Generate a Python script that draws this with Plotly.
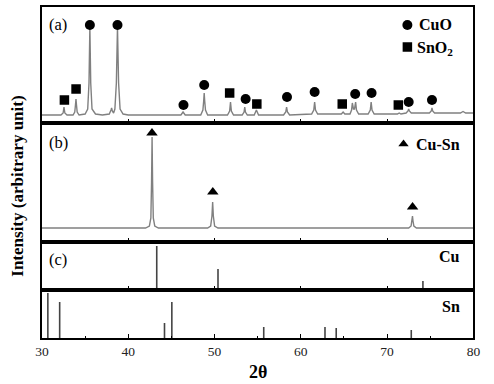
import plotly.graph_objects as go

# ---------------- data ----------------
# panel (a): measured pattern, 2theta / intensity (arb.)
a_x = [30.0, 32.2, 32.45, 32.55, 32.65, 32.9,
       33.6, 33.8, 33.88, 33.94, 34.0, 34.08, 34.3,
       35.0, 35.3, 35.45, 35.55, 35.65, 35.8, 36.2,
       37.0, 37.8, 38.0, 38.07, 38.15, 38.3,
       38.45, 38.62, 38.75, 38.88, 39.05, 39.4, 40.0,
       46.1, 46.35, 46.6,
       48.4, 48.65, 48.74, 48.8, 48.86, 48.95, 49.2,
       51.5, 51.75, 51.85, 51.95, 52.2,
       53.2, 53.42, 53.5, 53.58, 53.8,
       54.6, 54.85, 55.1,
       58.0, 58.25, 58.35, 58.45, 58.7,
       61.25, 61.5, 61.6, 61.7, 61.95,
       64.7, 64.9, 65.1,
       65.7, 65.88, 65.97, 66.1, 66.22, 66.35, 66.45, 66.7,
       67.8, 68.05, 68.15, 68.25, 68.5,
       71.2, 71.4, 71.6,
       72.2, 72.42, 72.5, 72.58, 72.8,
       74.9, 75.12, 75.2, 75.28, 75.5,
       78.5, 78.8, 79.1, 80.0]
a_y = [8, 8, 10, 16, 10, 8,
       8, 11, 18, 24, 18, 11, 8,
       9, 14, 40, 96, 40, 14, 9,
       8, 9, 13, 15, 12, 10,
       14, 40, 96, 40, 14, 9, 8,
       8, 11, 8,
       8, 13, 22, 30, 22, 13, 8,
       8, 12, 21, 12, 8,
       8, 11, 16, 11, 8,
       8, 13, 8,
       8, 11, 16, 11, 8,
       9, 13, 21, 13, 9,
       9, 11, 9,
       9, 13, 20, 14, 14, 21, 13, 9,
       9, 13, 21, 13, 9,
       9, 10, 9,
       10, 12, 14, 12, 10,
       10, 12, 15, 12, 10,
       10, 11.5, 10, 10]
cuo_x = [35.55, 38.75, 46.4, 48.8, 53.6, 58.4, 61.6, 66.3, 68.2, 72.5, 75.2]
cuo_y = [98, 98, 18, 38, 24, 26, 31, 29, 30, 21, 23]
sno2_x = [32.6, 33.95, 51.75, 54.9, 64.8, 71.3]
sno2_y = [23, 34, 30, 19, 19, 18]

# panel (b): measured pattern
b_x = [30.0, 42.0, 42.45, 42.62, 42.7, 42.76, 42.82, 42.9, 43.07, 43.5,
       49.2, 49.55, 49.7, 49.78, 49.86, 50.01, 50.4,
       72.5, 72.78, 72.88, 72.94, 73.0, 73.1, 73.4, 80.0]
b_y = [14, 14, 16, 24, 60, 105, 60, 24, 16, 14,
       14, 16, 26, 40, 26, 16, 14,
       14, 16, 21, 26, 21, 16, 14, 14]
cusn_x = [42.75, 49.8, 72.95]
cusn_y = [109, 50, 35]

# panel (c): reference lines
cu_x = [43.3, 50.4, 74.15]
cu_h = [44, 21, 9]
sn_x = [30.68, 32.05, 44.2, 45.05, 55.7, 62.8, 64.1, 72.8]
sn_h = [45, 36, 15, 36, 11, 11, 10, 8]

x_ticks = [30, 40, 50, 60, 70, 80]

# ---------------- figure ----------------
W, H = 494, 384
FONT = "Liberation Serif"
X0, X1 = 36, 480


def py(px):
    return 1 - px / H


panels = [(7, 123, 116), (123, 242, 119), (242, 290, 48), (290, 338, 48)]

fig = go.Figure()

LINE_GRAY = "#808080"
fig.add_trace(go.Scatter(x=a_x, y=a_y, mode="lines", xaxis="x", yaxis="y",
                         line=dict(color=LINE_GRAY, width=1.4)))
fig.add_trace(go.Scatter(x=cuo_x, y=cuo_y, mode="markers", xaxis="x", yaxis="y",
                         marker=dict(symbol="circle", size=10, color="black")))
fig.add_trace(go.Scatter(x=sno2_x, y=sno2_y, mode="markers", xaxis="x", yaxis="y",
                         marker=dict(symbol="square", size=9.5, color="black")))

fig.add_trace(go.Scatter(x=b_x, y=b_y, mode="lines", xaxis="x2", yaxis="y2",
                         line=dict(color=LINE_GRAY, width=1.4)))
fig.add_trace(go.Scatter(x=cusn_x, y=cusn_y, mode="markers", xaxis="x2", yaxis="y2",
                         marker=dict(symbol="triangle-up", size=10, color="black")))


def sticks(xs, hs):
    X, Y = [], []
    for x, h in zip(xs, hs):
        X += [x, x, None]
        Y += [0, h, None]
    return X, Y


cx, cy = sticks(cu_x, cu_h)
fig.add_trace(go.Scatter(x=cx, y=cy, mode="lines", xaxis="x3", yaxis="y3",
                         line=dict(color="#444444", width=1.6)))
sx, sy = sticks(sn_x, sn_h)
fig.add_trace(go.Scatter(x=sx, y=sy, mode="lines", xaxis="x4", yaxis="y4",
                         line=dict(color="#444444", width=1.6)))

# legend symbols (inside panels)
fig.add_trace(go.Scatter(x=[72.35], y=[98], mode="markers", xaxis="x", yaxis="y",
                         marker=dict(symbol="circle", size=10, color="black")))
fig.add_trace(go.Scatter(x=[72.35], y=[76], mode="markers", xaxis="x", yaxis="y",
                         marker=dict(symbol="square", size=9.5, color="black")))
fig.add_trace(go.Scatter(x=[71.9], y=[98], mode="markers", xaxis="x2", yaxis="y2",
                         marker=dict(symbol="triangle-up", size=9, color="black")))

layout = dict(width=W, height=H, margin=dict(l=0, r=0, t=0, b=0),
              paper_bgcolor="white", plot_bgcolor="white", showlegend=False,
              font=dict(family=FONT, color="black"))

for i, (top, bot, rng) in enumerate(panels, start=1):
    sfx = "" if i == 1 else str(i)
    last = i == len(panels)
    layout["xaxis" + sfx] = dict(
        domain=[X0 / W, X1 / W], anchor="y" + sfx, range=[30, 80],
        showgrid=False, zeroline=False, showline=True, mirror=True,
        linecolor="black", linewidth=1.7,
        ticks="inside", ticklen=4, tickwidth=1.3, tickcolor="black",
        tickvals=x_ticks, showticklabels=last,
        tickfont=dict(family=FONT, size=13.5, color="#222"),
        minor=dict(ticks="inside", ticklen=2, tickwidth=1.3, tickcolor="black", dtick=5, tick0=30),
    )
    layout["yaxis" + sfx] = dict(
        domain=[py(bot), py(top)], anchor="x" + sfx, range=[0, rng],
        showgrid=False, zeroline=False, showline=True, mirror=True,
        linecolor="black", linewidth=1.7, ticks="", showticklabels=False,
    )

fig.update_layout(**layout)

ann = []


def text(t, xpx, ypx, size, xanchor="left", angle=0):
    ann.append(dict(text=t, x=xpx / W, y=py(ypx), xref="paper", yref="paper",
                    showarrow=False, xanchor=xanchor, yanchor="middle", textangle=angle,
                    font=dict(family=FONT, size=size, color="black")))


text("(a)", 41, 25, 16.5)
text("(b)", 41, 142, 16.5)
text("(c)", 41, 259, 16.5)
text("<b>CuO</b>", 422, 25, 16)
text("<b>SnO<sub>2</sub></b>", 420, 48, 16)
text("<b>Cu-Sn</b>", 419, 144, 16)
text("<b>Cu</b>", 468, 256, 16, xanchor="right")
text("<b>Sn</b>", 468, 306, 16, xanchor="right")
text("<b>2θ</b>", 258, 372, 18, xanchor="center")
text("<b>Intensity (arbitrary unit)</b>", 10, 186, 17, xanchor="center", angle=-90)
fig.update_layout(annotations=ann)

fig.write_html("out.html", config={"displayModeBar": False},
               post_script="document.body.style.margin='0';document.body.style.overflow='hidden';")
